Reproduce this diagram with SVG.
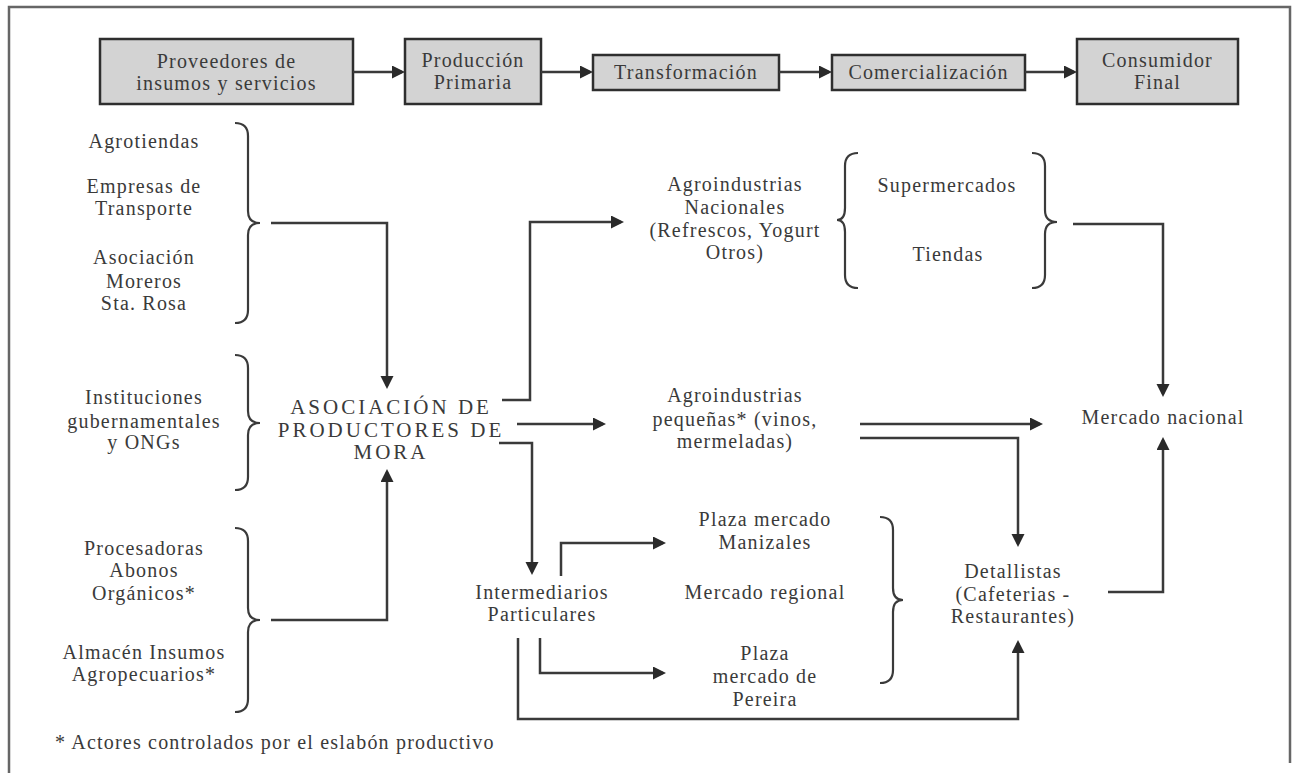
<svg xmlns="http://www.w3.org/2000/svg" width="1294" height="773" viewBox="0 0 1294 773">
<defs>
<style>
text{font-family:"Liberation Serif","Times New Roman",serif;font-size:20px;fill:#3a3a3a;text-anchor:middle;letter-spacing:1.2px}
.caps{letter-spacing:3px;font-size:21px}
.foot{text-anchor:start}
.box{fill:#d3d3d3;stroke:#2e2e2e;stroke-width:2.5}
.ln{fill:none;stroke:#3a3a3a;stroke-width:2.5;marker-end:url(#ah)}
.br{fill:none;stroke:#3a3a3a;stroke-width:2.2}
.frame{fill:none;stroke:#666;stroke-width:2.5}
</style>
<marker id="ah" markerUnits="userSpaceOnUse" markerWidth="14" markerHeight="14" refX="10" refY="6.5" orient="auto">
<path d="M0,0 L13,6.5 L0,13 z" fill="#2a2a2a"/>
</marker>
</defs>
<rect width="1294" height="773" fill="#fff"/>
<path class="frame" d="M9,775 V7 H1290 V763"/>

<g id="top-proveedores"><rect class="box" x="100" y="39" width="253" height="65"/><text x="226.5" y="68">Proveedores de</text><text x="226.5" y="90">insumos y servicios</text></g>
<g id="top-produccion"><rect class="box" x="405" y="39" width="136" height="65"/><text x="473" y="67">Producción</text><text x="473" y="89">Primaria</text></g>
<g id="top-transformacion"><rect class="box" x="593" y="55" width="186" height="35"/><text x="686" y="79">Transformación</text></g>
<g id="top-comercializacion"><rect class="box" x="832" y="55" width="193" height="35"/><text x="928.5" y="79">Comercialización</text></g>
<g id="top-consumidor"><rect class="box" x="1077" y="39" width="161" height="65"/><text x="1157.5" y="67">Consumidor</text><text x="1157.5" y="89">Final</text></g>

<g id="grp-insumos">
<text x="144" y="148">Agrotiendas</text>
<text x="144" y="193">Empresas de</text><text x="144" y="215">Transporte</text>
<text x="144" y="264">Asociación</text><text x="144" y="288">Moreros</text><text x="144" y="310">Sta. Rosa</text>
<path class="br" d="M235,123 Q248,123 248,136 V211 Q248,223 260,223 Q248,223 248,235 V310 Q248,323 235,323"/>
</g>
<g id="grp-instituciones">
<text x="144" y="404">Instituciones</text><text x="144" y="428">gubernamentales</text><text x="144" y="449">y ONGs</text>
<path class="br" d="M235,355 Q248,355 248,368 V411 Q248,423 260,423 Q248,423 248,435 V477 Q248,490 235,490"/>
</g>
<g id="grp-procesadoras">
<text x="144" y="555">Procesadoras</text><text x="144" y="577">Abonos</text><text x="144" y="600">Orgánicos*</text>
<text x="144" y="659">Almacén Insumos</text><text x="144" y="681">Agropecuarios*</text>
<path class="br" d="M235,528 Q248,528 248,541 V608 Q248,620 260,620 Q248,620 248,632 V699 Q248,712 235,712"/>
</g>

<g id="asociacion">
<text class="caps" x="391" y="414">ASOCIACIÓN DE</text>
<text class="caps" x="391" y="437">PRODUCTORES DE</text>
<text class="caps" x="391" y="459">MORA</text>
</g>

<g id="agro-nacionales">
<text x="735" y="191">Agroindustrias</text><text x="735" y="214">Nacionales</text><text x="735" y="237">(Refrescos, Yogurt</text><text x="735" y="259">Otros)</text>
</g>
<g id="grp-super">
<path class="br" d="M858,153 Q845,153 845,166 V208 Q845,220 837,220 Q845,220 845,232 V275 Q845,288 858,288"/>
<text x="947" y="192">Supermercados</text>
<text x="948" y="261">Tiendas</text>
<path class="br" d="M1032,153 Q1045,153 1045,166 V210 Q1045,222 1057,222 Q1045,222 1045,234 V275 Q1045,288 1032,288"/>
</g>
<g id="agro-pequenas">
<text x="735" y="402">Agroindustrias</text><text x="735" y="426">pequeñas* (vinos,</text><text x="735" y="448">mermeladas)</text>
</g>
<g id="mercado-nacional"><text x="1163" y="424">Mercado nacional</text></g>
<g id="intermediarios"><text x="542" y="599">Intermediarios</text><text x="542" y="621">Particulares</text></g>
<g id="grp-regional">
<text x="765" y="526">Plaza mercado</text><text x="765" y="549">Manizales</text>
<text x="765" y="599">Mercado regional</text>
<text x="765" y="660">Plaza</text><text x="765" y="683">mercado de</text><text x="765" y="706">Pereira</text>
<path class="br" d="M880,517 Q893,517 893,530 V588 Q893,600 903,600 Q893,600 893,612 V670 Q893,683 880,683"/>
</g>
<g id="detallistas"><text x="1013" y="578">Detallistas</text><text x="1013" y="601">(Cafeterias -</text><text x="1013" y="623">Restaurantes)</text></g>

<g id="connectors">
<path class="ln" d="M353,72 H402"/>
<path class="ln" d="M541,72 H590"/>
<path class="ln" d="M779,72 H829"/>
<path class="ln" d="M1025,72 H1074"/>
<path class="ln" d="M271,223 H387 V386"/>
<path class="ln" d="M271,620 H387 V472"/>
<path class="ln" d="M502,400 H530 V222 H621"/>
<path class="ln" d="M517,424 H603"/>
<path class="ln" d="M499,443 H532 V572"/>
<path class="ln" d="M860,424 H1040"/>
<path class="ln" d="M860,438 H1018 V544"/>
<path class="ln" d="M1073,224 H1163 V394"/>
<path class="ln" d="M1108,592 H1163 V440"/>
<path class="ln" d="M561,576 V543 H663"/>
<path class="ln" d="M540,638 V673 H663"/>
<path class="ln" d="M518,638 V719 H1018 V643"/>
</g>

<text class="foot" x="55" y="749">* Actores controlados por el eslabón productivo</text>
</svg>
